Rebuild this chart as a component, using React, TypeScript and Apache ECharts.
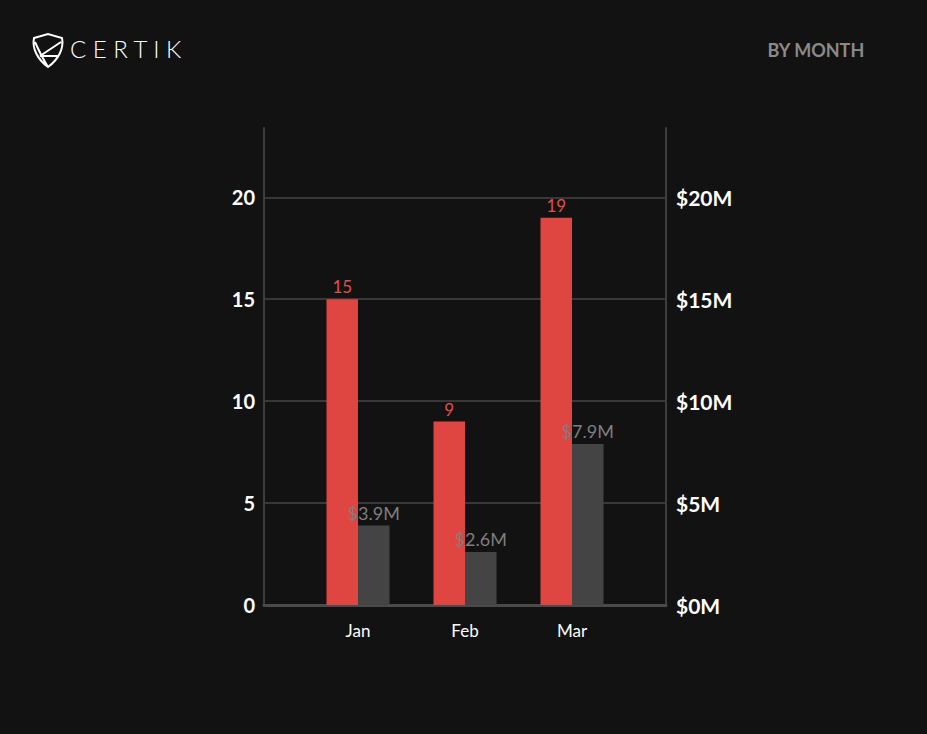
import React, { useEffect, useRef } from "react";
import * as echarts from "echarts";

const months = ["Jan", "Feb", "Mar"];
const incidents = [15, 9, 19];
const lossesMillions = [3.9, 2.6, 7.9];
const axisMax = 23.4;
const axisInterval = 5;

const shieldPath =
  "M3 5 L17 1 L31 5 C33 15 28 26 17 34 C6 26 1 15 3 5 Z M4 9 C8 18 12 26 17 34 M30 9 L9 23 M9 23 L27 23";

let registered = false;

export default function App() {
  const ref = useRef<HTMLDivElement>(null);
  useEffect(() => {
    if (!ref.current) return;
    if (!registered) {
      echarts.graphic.registerShape(
        "certikShield",
        echarts.graphic.extendPath(shieldPath, {}) as any
      );
      registered = true;
    }
    const chart = echarts.init(ref.current, null, { renderer: "svg" });
    const font = "Lato, 'Open Sans', sans-serif";
    const option: any = {
      animation: false,
      backgroundColor: "#121212",
      textStyle: { fontFamily: font },
      graphic: [
        {
          type: "certikShield",
          x: 31,
          y: 33,
          scaleX: 1.0,
          scaleY: 1.0,
          style: { fill: "none", stroke: "#ffffff", lineWidth: 2 },
        },
        {
          type: "text",
          left: 70,
          top: 36,
          style: {
            text: "C E R T I K",
            fill: "#ffffff",
            font: "300 24px Lato, 'Open Sans', sans-serif",
          },
        },
        {
          type: "text",
          right: 62,
          top: 41,
          style: {
            text: "BY MONTH",
            fill: "#8a8a8a",
            font: "bold 18px Lato, 'Open Sans', sans-serif",
          },
        },
      ],
      grid: [
        { left: 264, top: 128, width: 402, height: 477 },
        { left: 304.5, top: 128, width: 321, height: 477 },
      ],
      xAxis: [
        {
          gridIndex: 0,
          type: "value",
          min: 0,
          max: 1,
          axisLine: { show: true, lineStyle: { color: "#4a4a4a", width: 3 } },
          axisTick: { show: false },
          axisLabel: { show: false },
          splitLine: { show: false },
        },
        {
          gridIndex: 1,
          type: "category",
          data: months,
          axisLine: { show: false },
          axisTick: { show: false },
          axisLabel: { color: "#ffffff", fontSize: 17, margin: 17, fontFamily: font },
        },
      ],
      yAxis: [
        {
          gridIndex: 0,
          type: "value",
          position: "left",
          min: 0,
          max: axisMax,
          interval: axisInterval,
          axisLine: { show: true, lineStyle: { color: "#3e3e3e", width: 2 } },
          axisTick: { show: false },
          axisLabel: {
            color: "#ffffff",
            fontSize: 20,
            fontWeight: "bold",
            margin: 9,
            showMaxLabel: false,
            fontFamily: font,
            padding: [0, 0, 6, 0],
          },
          splitLine: { show: true, showMaxLine: false, lineStyle: { color: "#383838", width: 2 } },
        },
        {
          gridIndex: 0,
          type: "value",
          position: "right",
          min: 0,
          max: axisMax,
          interval: axisInterval,
          axisLine: { show: true, lineStyle: { color: "#3e3e3e", width: 2 } },
          axisTick: { show: false },
          axisLabel: {
            color: "#ffffff",
            fontSize: 21,
            fontWeight: "bold",
            margin: 10,
            showMaxLabel: false,
            fontFamily: font,
            padding: [0, 0, 4, 0],
            formatter: (v: number) => "$" + v + "M",
          },
          splitLine: { show: false },
        },
        { gridIndex: 1, type: "value", min: 0, max: axisMax, show: false },
        { gridIndex: 1, type: "value", min: 0, max: axisMax, show: false },
      ],
      series: [
        {
          type: "bar",
          name: "Incidents",
          xAxisIndex: 1,
          yAxisIndex: 2,
          data: incidents,
          barWidth: 31.5,
          barGap: "0%",
          itemStyle: { color: "#df4541" },
          label: {
            show: true,
            position: "top",
            distance: 4,
            color: "#e0504b",
            fontSize: 17,
            fontFamily: font,
          },
        },
        {
          type: "bar",
          name: "Losses",
          xAxisIndex: 1,
          yAxisIndex: 3,
          data: lossesMillions,
          barWidth: 31.5,
          barGap: "0%",
          itemStyle: { color: "#444444" },
          label: {
            show: true,
            position: "top",
            distance: 4,
            color: "#7e7e7e",
            fontSize: 18,
            fontFamily: font,
            formatter: (p: any) => "$" + p.value + "M",
          },
        },
      ],
    };
    chart.setOption(option);
    return () => chart.dispose();
  }, []);
  return (
    <div
      ref={ref}
      style={{ position: "fixed", left: 0, top: 0, width: 927, height: 734 }}
    />
  );
}
